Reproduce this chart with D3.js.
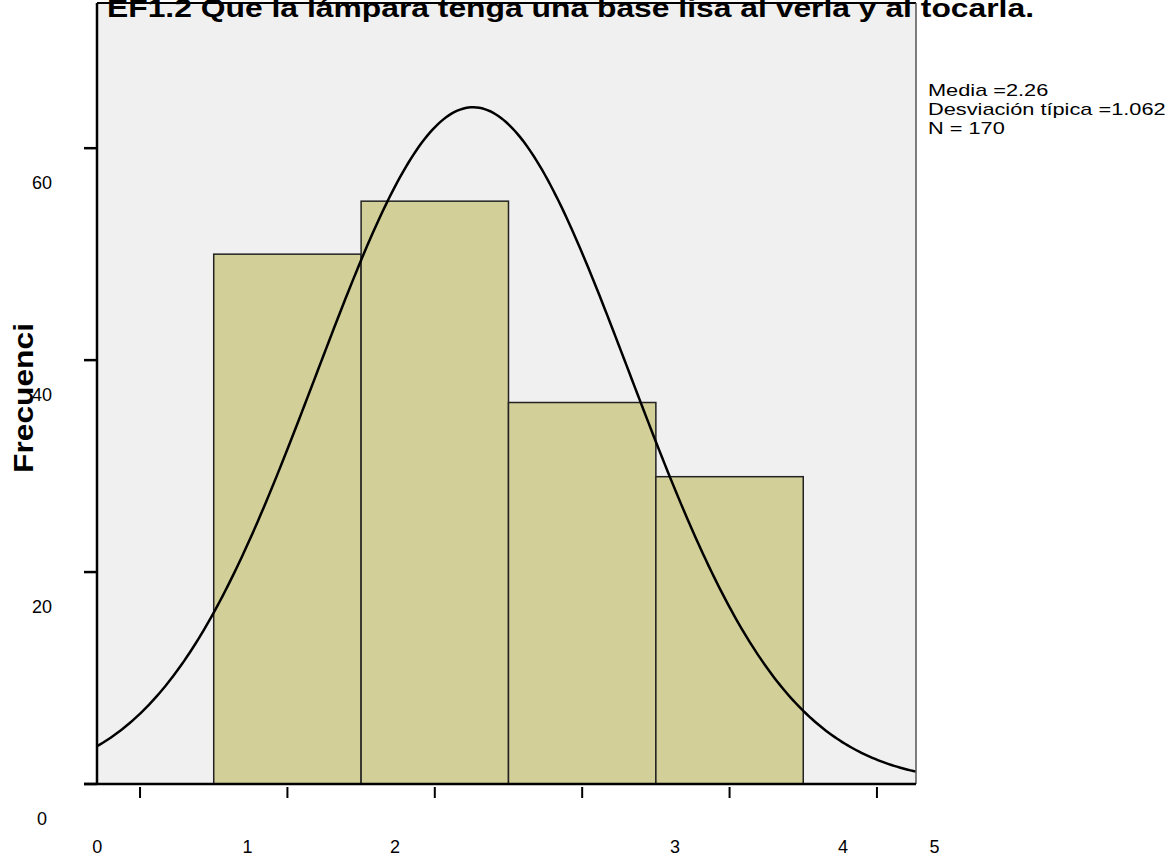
<!DOCTYPE html>
<html>
<head>
<meta charset="utf-8">
<script src="https://cdn.jsdelivr.net/npm/d3@7"></script>
<style>
    body { margin: 0; background: #fff; }
    text { font-family: 'Liberation Sans', Arial, sans-serif; }
</style>
</head>
<body>
<div class="chart"></div>
<script>
    'use strict';

    /* data */
    const categories = [1, 2, 3, 4];
    const frequencies = [50, 55, 36, 29];
    const yTickValues = [0, 20, 40, 60];
    const xTickValues = [0, 1, 2, 3, 4, 5];
    const xLabelText = ['0', '1', '2', '3', '4', '5'];
    const xLabelPos = [-0.29, 0.73, 1.73, 3.63, 4.77, 5.39];
    const stats = { mean: 2.26, sd: 1.062, n: 170 };
    const legendLines = ['Media =2.26', 'Desviación típica =1.062', 'N = 170'];
    const title = 'EF1.2 Que la lámpara tenga una base lisa al verla y al tocarla.';

    const W = 1172, H = 857;
    const plot = { left: 97, right: 916, top: 3, bottom: 784 };

    const svg = d3.select('.chart').append('svg')
        .attr('width', W).attr('height', H);

    const x = d3.scaleLinear().domain([-0.292, 5.265]).range([plot.left, plot.right]);
    const y = d3.scaleLinear().domain([0, 73.7]).range([plot.bottom, plot.top]);

    /* plot background */
    svg.append('rect')
        .attr('x', plot.left).attr('y', plot.top)
        .attr('width', plot.right - plot.left).attr('height', plot.bottom - plot.top)
        .attr('fill', '#f0f0f0');

    /* bars */
    svg.selectAll('.bar').data(categories)
        .enter().append('rect').attr('class', 'bar')
        .attr('x', function (d) { return x(d - 0.5); })
        .attr('y', function (d, i) { return y(frequencies[i]); })
        .attr('width', function (d) { return x(d + 0.5) - x(d - 0.5); })
        .attr('height', function (d, i) { return y(0) - y(frequencies[i]); })
        .attr('fill', '#d3cf99')
        .attr('stroke', '#222')
        .attr('stroke-width', 1.5);

    /* normal curve from the stated mean / sd / N (bin width 1) */
    const curvePts = d3.range(0, 301).map(function (i) {
        const v = x.domain()[0] + (x.domain()[1] - x.domain()[0]) * i / 300;
        const z = (v - stats.mean) / stats.sd;
        return [v, stats.n / (stats.sd * Math.sqrt(2 * Math.PI)) * Math.exp(-0.5 * z * z)];
    });
    svg.append('path')
        .attr('d', d3.line().x(function (d) { return x(d[0]); }).y(function (d) { return y(d[1]); })(curvePts))
        .attr('fill', 'none')
        .attr('stroke', '#000')
        .attr('stroke-width', 2.5);

    /* title (drawn under the frame line, cut at the top like the original) */
    svg.append('text')
        .attr('x', 107).attr('y', 17)
        .attr('textLength', 927).attr('lengthAdjust', 'spacingAndGlyphs')
        .style('font-size', '26px').style('font-weight', 700)
        .attr('fill', '#000')
        .text(title);

    /* frame */
    svg.append('line').attr('x1', plot.left).attr('x2', plot.right)
        .attr('y1', plot.top).attr('y2', plot.top)
        .attr('stroke', '#000').attr('stroke-width', 2);
    svg.append('line').attr('x1', plot.left).attr('x2', plot.left)
        .attr('y1', plot.top).attr('y2', plot.bottom)
        .attr('stroke', '#000').attr('stroke-width', 2.5);
    svg.append('line').attr('x1', plot.right).attr('x2', plot.right)
        .attr('y1', plot.top).attr('y2', plot.bottom)
        .attr('stroke', '#555').attr('stroke-width', 1.5);

    /* y axis ticks */
    svg.selectAll('.y-tick').data(yTickValues)
        .enter().append('line').attr('class', 'y-tick')
        .attr('x1', plot.left - 13).attr('x2', plot.left)
        .attr('y1', function (d) { return y(d); })
        .attr('y2', function (d) { return y(d); })
        .attr('stroke', '#000').attr('stroke-width', 2.5);
    svg.selectAll('.y-label').data(yTickValues)
        .enter().append('text').attr('class', 'y-label')
        .attr('x', 42)
        .attr('y', function (d) { return y(d) + 35; })
        .attr('dy', '.35em')
        .attr('text-anchor', 'middle')
        .style('font-size', '18px')
        .attr('fill', '#000')
        .text(function (d) { return d; });

    /* bottom axis */
    svg.append('line').attr('x1', plot.left - 13).attr('x2', plot.right)
        .attr('y1', plot.bottom).attr('y2', plot.bottom)
        .attr('stroke', '#000').attr('stroke-width', 2.5);
    svg.selectAll('.x-tick').data(xTickValues)
        .enter().append('line').attr('class', 'x-tick')
        .attr('x1', function (d) { return x(d); })
        .attr('x2', function (d) { return x(d); })
        .attr('y1', plot.bottom + 3).attr('y2', plot.bottom + 14)
        .attr('stroke', '#000').attr('stroke-width', 2);
    svg.selectAll('.x-label').data(xLabelText)
        .enter().append('text').attr('class', 'x-label')
        .attr('x', function (d, i) { return x(xLabelPos[i]); })
        .attr('y', 847)
        .attr('dy', '.35em')
        .attr('text-anchor', 'middle')
        .style('font-size', '18px')
        .attr('fill', '#000')
        .text(function (d) { return d; });

    /* y axis title */
    svg.append('text')
        .attr('transform', 'translate(33, 473) rotate(-90)')
        .attr('textLength', 150).attr('lengthAdjust', 'spacingAndGlyphs')
        .style('font-size', '28px').style('font-weight', 700)
        .attr('fill', '#000')
        .text('Frecuenci');

    /* legend (glyphs stretched sideways like the original) */
    const legend = svg.append('g').attr('class', 'legend')
        .attr('transform', 'translate(928, 0) scale(1.28, 1)');
    legend.selectAll('text').data(legendLines)
        .enter().append('text')
        .attr('x', 0)
        .attr('y', function (d, i) { return 96 + i * 19; })
        .style('font-size', '17px')
        .attr('fill', '#000')
        .text(function (d) { return d; });
</script>
</body>
</html>
